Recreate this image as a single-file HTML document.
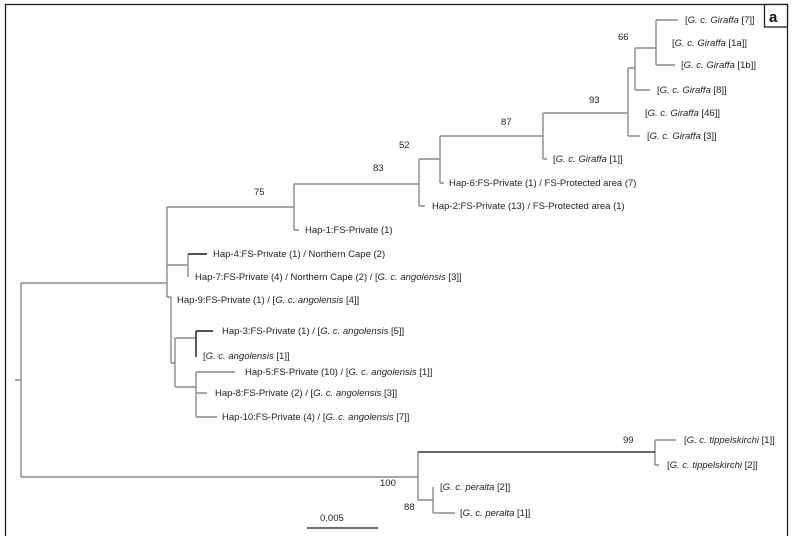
<!DOCTYPE html>
<html><head><meta charset="utf-8"><style>
html,body{margin:0;padding:0;background:#fff;}
svg{display:block;}
text{font-family:"Liberation Sans",sans-serif;font-size:9.5px;fill:#222;}
.i{font-style:italic;}
</style></head><body>
<svg width="792" height="536" viewBox="0 0 792 536" xmlns="http://www.w3.org/2000/svg">
<rect x="5.5" y="4.5" width="782" height="540" fill="none" stroke="#222" stroke-width="1.3"/>
<rect x="764.5" y="4.5" width="23" height="22.5" fill="#fff" stroke="#222" stroke-width="1.3"/>
<text x="769" y="22" style="font-size:15px;font-weight:bold;fill:#111">a</text>
<g fill="none" stroke="#8a8a8a" stroke-width="1.4">
<path d="M15 380H21M21 283V477M21 283H167"/>
<path d="M21 477H418M418 452V500M418 500H433M433 487V513M433 513H455"/>
<path d="M655 440V465M655 440H676M655 465H659"/>
<path d="M167 207V297M167 297H171M171 297V363M171 363H175M175 338V387"/>
<path d="M167 265H188M188 254V277M188 254H207"/>
<path d="M175 338H196M196 331V357M196 331H213"/>
<path d="M175 387H196M196 372V417M196 372H235M196 393H207M196 417H217"/>
<path d="M167 207H294M294 184V230M294 230H299"/>
<path d="M294 184H419M419 159V206M419 206H425"/>
<path d="M419 159H440M440 136V183M440 183H444"/>
<path d="M440 136H543M543 113V159M543 159H547"/>
<path d="M543 113H628M628 68V136M628 136H640"/>
<path d="M628 68H635M635 48V90M635 90H650"/>
<path d="M635 48H656M656 20V65M656 20H678M656 65H675"/>
</g>
<g fill="none" stroke="#111" stroke-width="1.2">
<path d="M418 452H655"/>
<path d="M188 254H207M196 331H213M196 331V357"/>
<path d="M307 528H378"/>
</g>
<text x="685" y="23">[<tspan class="i">G. c. Giraffa</tspan> [7]]</text>
<text x="672" y="46">[<tspan class="i">G. c. Giraffa</tspan> [1a]]</text>
<text x="681" y="68">[<tspan class="i">G. c. Giraffa</tspan> [1b]]</text>
<text x="657" y="93">[<tspan class="i">G. c. Giraffa</tspan> [8]]</text>
<text x="645" y="116">[<tspan class="i">G. c. Giraffa</tspan> [46]]</text>
<text x="647" y="139">[<tspan class="i">G. c. Giraffa</tspan> [3]]</text>
<text x="553" y="162">[<tspan class="i">G. c. Giraffa</tspan> [1]]</text>
<text x="449" y="186">Hap-6:FS-Private (1) / FS-Protected area (7)</text>
<text x="432" y="209">Hap-2:FS-Private (13) / FS-Protected area (1)</text>
<text x="305" y="233">Hap-1:FS-Private (1)</text>
<text x="213" y="257">Hap-4:FS-Private (1) / Northern Cape (2)</text>
<text x="195" y="280">Hap-7:FS-Private (4) / Northern Cape (2) / [<tspan class="i">G. c. angolensis</tspan> [3]]</text>
<text x="177" y="303">Hap-9:FS-Private (1) / [<tspan class="i">G. c. angolensis</tspan> [4]]</text>
<text x="222" y="334">Hap-3:FS-Private (1) / [<tspan class="i">G. c. angolensis</tspan> [5]]</text>
<text x="203" y="359">[<tspan class="i">G. c. angolensis</tspan> [1]]</text>
<text x="245" y="375">Hap-5:FS-Private (10) / [<tspan class="i">G. c. angolensis</tspan> [1]]</text>
<text x="215" y="396">Hap-8:FS-Private (2) / [<tspan class="i">G. c. angolensis</tspan> [3]]</text>
<text x="222" y="420">Hap-10:FS-Private (4) / [<tspan class="i">G. c. angolensis</tspan> [7]]</text>
<text x="684" y="443">[<tspan class="i">G. c. tippelskirchi</tspan> [1]]</text>
<text x="667" y="468">[<tspan class="i">G. c. tippelskirchi</tspan> [2]]</text>
<text x="440" y="490">[<tspan class="i">G. c. peralta</tspan> [2]]</text>
<text x="460" y="516">[<tspan class="i">G. c. peralta</tspan> [1]]</text>
<text x="618" y="40">66</text>
<text x="589" y="103">93</text>
<text x="501" y="125">87</text>
<text x="399" y="148">52</text>
<text x="373" y="171">83</text>
<text x="254" y="195">75</text>
<text x="623" y="443">99</text>
<text x="380" y="486">100</text>
<text x="404" y="510">88</text>
<text x="320" y="521">0.005</text>
</svg>
</body></html>
